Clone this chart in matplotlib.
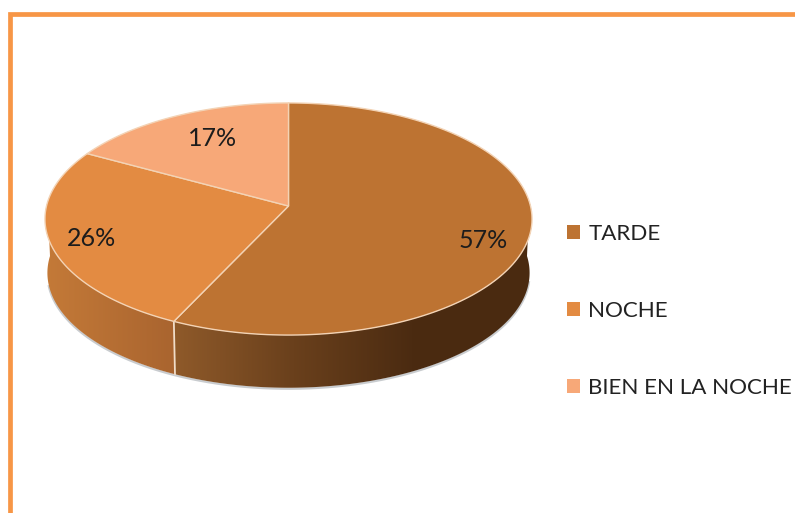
import numpy as np
import matplotlib
matplotlib.use('Agg')
import matplotlib.pyplot as plt
from matplotlib.patches import Polygon, Patch
from matplotlib.colors import LinearSegmentedColormap

categories = ['TARDE', 'NOCHE', 'BIEN EN LA NOCHE']
values = [57, 26, 17]
labels = ['57%', '26%', '17%']
colors = ['#BD7332', '#E38B42', '#F7A878']

plt.rcParams['font.family'] = ['Lato', 'DejaVu Sans']

W, H = 795, 513
fig = plt.figure(figsize=(W / 100, H / 100), dpi=100)
ax = fig.add_axes([0, 0, 1, 1])
ax.set_xlim(0, W)
ax.set_ylim(H, 0)
ax.axis('off')

# pie is tilted with some perspective, so the centre is not the ellipse centre
cx, cy = 288.5, 206
rx, ry, persp = 242, 114.6, 0.112
depth = 54


def rim(deg, dy=0, scale=1.0):
    # deg runs clockwise from 12 o'clock
    t = np.radians(deg)
    u, v = np.sin(t), -np.cos(t)
    d = 1 - persp * v
    return np.column_stack([cx + scale * rx * u / d, cy + dy + scale * ry * v / d])


def arc(a, b, dy=0, scale=1.0):
    return rim(np.linspace(a, b, 160), dy, scale)


edges = np.cumsum([0] + values) / sum(values) * 360

# soft shadow under the wall
shadow = Polygon(arc(100, 258, depth + 1, 0.99), closed=False, fill=False,
                 edgecolor='#c9cccf', lw=1.6, zorder=1)
ax.add_patch(shadow)

# walls, only the front half of the rim shows
walls = [
    (edges[0], edges[1], ['#8F5A2A', '#6A401C', '#4B2B11', '#4A2A10'], (174, 532)),
    (edges[1], 272, ['#C47A38', '#A9642F'], (45, 176)),
]
for a, b, stops, (x0, x1) in walls:
    start = max(a, 88)
    top = arc(start, b)
    bot = arc(b, start, depth, 0.99)
    poly = Polygon(np.vstack([top, bot]), closed=True, transform=ax.transData,
                   facecolor='none', edgecolor='none')
    ax.add_patch(poly)
    cmap = LinearSegmentedColormap.from_list('wall', stops)
    grad = np.linspace(0, 1, 256).reshape(1, -1)
    im = ax.imshow(grad, cmap=cmap, extent=(x0, x1, 400, 200), aspect='auto', zorder=2)
    im.set_clip_path(poly)
ax.set_xlim(0, W)
ax.set_ylim(H, 0)

# seam on the wall
seam_top = rim(edges[1])
seam_bot = rim(edges[1], depth, 0.99)
ax.plot([seam_top[0, 0], seam_bot[0, 0]], [seam_top[0, 1], seam_bot[0, 1]],
        color='#f0dcc8', lw=1.3, zorder=3)

# top face
for i, c in enumerate(colors):
    pts = np.vstack([[cx, cy], arc(edges[i], edges[i + 1])])
    ax.add_patch(Polygon(pts, closed=True, facecolor=c, edgecolor='#F3D3B5', lw=1.0,
                         joinstyle='round', zorder=4))

label_pos = [(483, 240), (91, 238), (213, 138)]
for txt, (x, y) in zip(labels, label_pos):
    ax.text(x, y, txt, ha='center', va='center', fontsize=18, color='#1c1c1c', zorder=5)

handles = [Patch(facecolor=c, edgecolor='none') for c in colors]
ax.legend(handles, categories, loc='upper left', bbox_to_anchor=(567 / W, 1 - 224 / H),
          frameon=False, fontsize=16.1, labelcolor='#222222', handlelength=0.58, handleheight=0.58,
          handletextpad=0.38, labelspacing=2.55, borderpad=0, borderaxespad=0)

# orange frame, cut off by the image on the right and bottom
ax.plot([10, 10, W], [H, 14, 14], color='#F79646', lw=3.4, solid_joinstyle='miter', zorder=6)

fig.savefig('out.png', dpi=100)
